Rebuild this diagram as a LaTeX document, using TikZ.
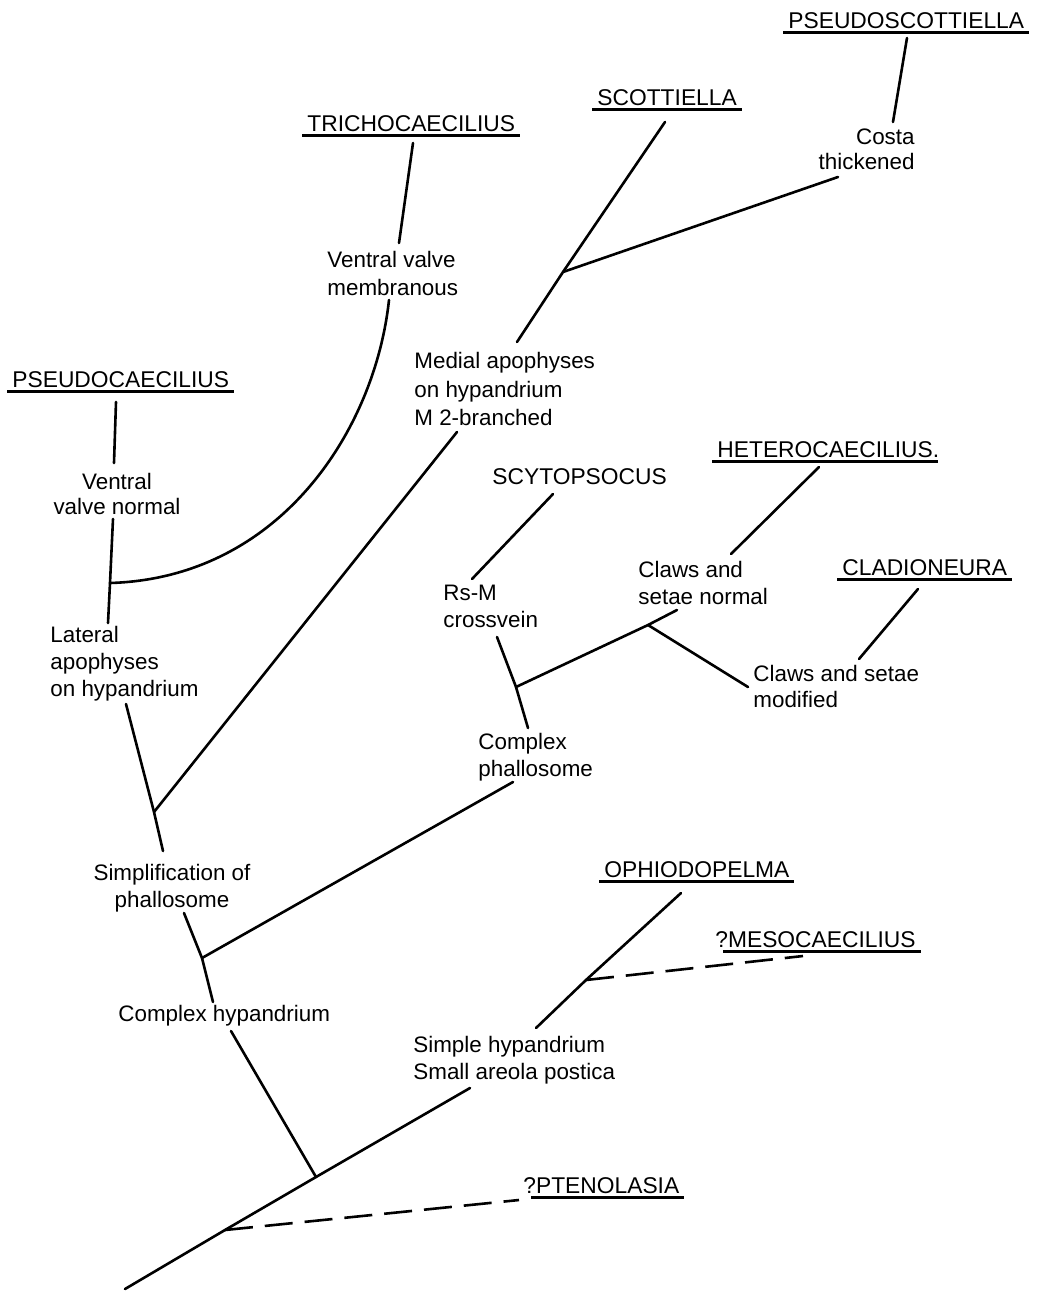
\documentclass[tikz,border=0pt]{standalone}
\usepackage{fontspec}
\setmainfont{Liberation Sans}
\newcommand\tul[1]{\setbox0=\hbox{#1}\rlap{\kern-2.5pt\rule[-3.2pt]{\dimexpr\wd0+5pt\relax}{1.5pt}}\box0}
\begin{document}
\begin{tikzpicture}[x=0.5pt,y=-0.5pt,
  br/.style={line width=1.3pt, line cap=round},
  dsh/.style={line width=1.3pt, dash pattern=on 14pt off 6pt},
  taxon/.style={inner sep=0pt, anchor=base west, font=\fontsize{11.4}{13.2}\selectfont},
  chr/.style={inner sep=0pt, font=\fontsize{11.2}{13.4}\selectfont},
]
\useasboundingbox (0,0) rectangle (1044,1291);

% taxa
\node[taxon] (pcae) at (12,387) {\tul{PSEUDOCAECILIUS}};
\node[taxon] (tric) at (307,131) {\tul{TRICHOCAECILIUS}};
\node[taxon] (scot) at (597,105) {\tul{SCOTTIELLA}};
\node[taxon] (pscot) at (788,28) {\tul{PSEUDOSCOTTIELLA}};
\node[taxon] (scyt) at (492,484) {SCYTOPSOCUS};
\node[taxon] (hete) at (717,457) {\tul{HETEROCAECILIUS}.};
\node[taxon] (clad) at (842,575) {\tul{CLADIONEURA}};
\node[taxon] (ophi) at (604,877) {\tul{OPHIODOPELMA}};
\node[taxon] (meso) at (715,947) {?\tul{MESOCAECILIUS}};
\node[taxon] (pten) at (523,1193) {?\tul{PTENOLASIA}};

% characters
\node[chr, anchor=north, align=center, font=\fontsize{11.2}{12.2}\selectfont] (vvn) at (117,473) {Ventral\\valve normal};
\node[chr, anchor=north west, align=left] (lat) at (50,626) {Lateral\\apophyses\\on hypandrium};
\node[chr, anchor=north, align=center] (simp) at (172,864) {Simplification of\\phallosome};
\node[chr, anchor=north west] (chyp) at (118,1005) {Complex hypandrium};
\node[chr, anchor=north west, align=left] (shyp) at (413,1036) {Simple hypandrium\\Small areola postica};
\node[chr, anchor=north west, align=left, font=\fontsize{11.2}{14}\selectfont] (vvm) at (327,251) {Ventral valve\\membranous};
\node[chr, anchor=north west, align=left, font=\fontsize{11.2}{14.2}\selectfont] (med) at (414,352) {Medial apophyses\\on hypandrium\\M 2-branched};
\node[chr, anchor=north west, align=left] (rsm) at (443,585) {Rs-M\\crossvein};
\node[chr, anchor=north west, align=left] (cphal) at (478,733) {Complex\\phallosome};
\node[chr, anchor=north west, align=left] (cn) at (638,561) {Claws and\\setae normal};
\node[chr, anchor=north west, align=left, font=\fontsize{11.2}{12.8}\selectfont] (cm) at (753,665) {Claws and setae\\modified};
\node[chr, anchor=north east, align=right, font=\fontsize{11.2}{12.6}\selectfont] (cost) at (915,128) {Costa\\thickened};

% junctions and free ends
\coordinate (root) at (125,1289);
\coordinate (j1) at (225,1230);
\coordinate (j2) at (316,1177);
\coordinate (shb) at (470,1088);
\coordinate (ptend) at (519,1200);
\coordinate (chtop) at (231,1031);
\coordinate (opb) at (536,1028);
\coordinate (jm) at (586,980);
\coordinate (opt) at (681,893);
\coordinate (mesend) at (803,956);
\coordinate (chb) at (213,1002);
\coordinate (j3) at (202,958);
\coordinate (spb) at (184,913);
\coordinate (cpb) at (513,782);
\coordinate (spt) at (163,851);
\coordinate (j4) at (154,812);
\coordinate (latb) at (126,704);
\coordinate (medb) at (457,432);
\coordinate (latt) at (108,623);
\coordinate (j5) at (110,583);
\coordinate (vnb) at (113,519);
\coordinate (vmb) at (389,300);
\coordinate (vnt) at (114,463);
\coordinate (pct) at (116,402);
\coordinate (trb) at (399,243);
\coordinate (trt) at (413,143);
\coordinate (medt) at (517,342);
\coordinate (j6) at (563,272);
\coordinate (sct) at (665,122);
\coordinate (cosb) at (838,177);
\coordinate (cost1) at (893,122);
\coordinate (pst) at (907,38);
\coordinate (cpt) at (528,728);
\coordinate (j7) at (516,687);
\coordinate (rsb) at (497,637);
\coordinate (j8) at (648,625);
\coordinate (cnb) at (677,610);
\coordinate (cmt) at (748,687);
\coordinate (rst) at (472,579);
\coordinate (syb) at (553,494);
\coordinate (cnt) at (731,554);
\coordinate (htb) at (819,467);
\coordinate (cmt2) at (859,659);
\coordinate (clb) at (918,589);

% branches
\draw[br] (root) -- (j1) -- (j2) -- (shb);
\draw[dsh] (j1) -- (ptend);
\draw[br] (j2) -- (chtop);
\draw[br] (opb) -- (jm) -- (opt);
\draw[dsh] (jm) -- (mesend);
\draw[br] (chb) -- (j3) -- (spb);
\draw[br] (j3) -- (cpb);
\draw[br] (spt) -- (j4) -- (latb);
\draw[br] (j4) -- (medb);
\draw[br] (latt) -- (j5) -- (vnb);
\draw[br] (j5) .. controls (280,578) and (375,430) .. (vmb);
\draw[br] (vnt) -- (pct);
\draw[br] (trb) -- (trt);
\draw[br] (medt) -- (j6) -- (sct);
\draw[br] (j6) -- (cosb);
\draw[br] (cost1) -- (pst);
\draw[br] (cpt) -- (j7) -- (rsb);
\draw[br] (j7) -- (j8) -- (cnb);
\draw[br] (j8) -- (cmt);
\draw[br] (rst) -- (syb);
\draw[br] (cnt) -- (htb);
\draw[br] (cmt2) -- (clb);
\end{tikzpicture}
\end{document}
